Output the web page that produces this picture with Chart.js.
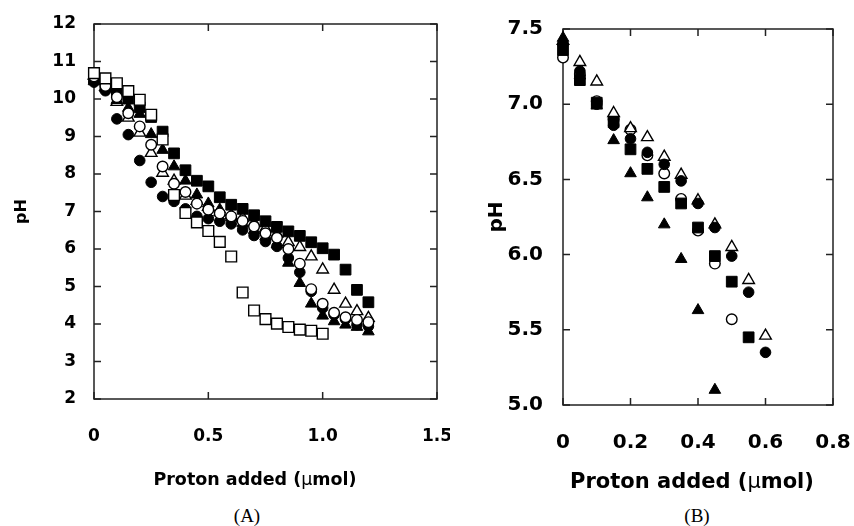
<!DOCTYPE html>
<html>
<head>
<meta charset="utf-8">
<script src="https://cdn.jsdelivr.net/npm/chart.js@4.4.0/dist/chart.umd.min.js"></script>
<style>
  body { margin: 0; background: #fff; width: 854px; height: 526px; position: relative; overflow: hidden;
         font-family: 'DejaVu Sans', 'Liberation Sans', Arial, sans-serif; }
  canvas { position: absolute; top: 0; }
  #chartA { left: 0; }
  #chartB { left: 450px; }
  .xt { position: absolute; font-weight: bold; white-space: nowrap; line-height: 1; transform: translateX(-50%); color: #000; }
  .mu { font-weight: normal; }
  .tag { position: absolute; font-family: 'Liberation Serif', 'Times New Roman', serif; font-size: 19px; line-height: 1;
         transform: translateX(-50%); color: #000; }
</style>
</head>
<body>
<canvas id="chartA" width="450" height="500"></canvas>
<canvas id="chartB" width="404" height="500"></canvas>
<div class="xt" style="left:255px;top:471px;font-size:17.5px">Proton added (<span class="mu">&mu;</span>mol)</div>
<div class="xt" style="left:692px;top:471px;font-size:21px">Proton added (<span class="mu">&mu;</span>mol)</div>
<div class="tag" style="left:247px;top:506px">(A)</div>
<div class="tag" style="left:697px;top:506px">(B)</div>
<script>
(function () {
  // ---- panel A: pH vs proton added (0 - 1.2 umol) ----
  var xA = [0, 0.05, 0.1, 0.15, 0.2, 0.25, 0.3, 0.35, 0.4, 0.45, 0.5, 0.55, 0.6,
            0.65, 0.7, 0.75, 0.8, 0.85, 0.9, 0.95, 1.0, 1.05, 1.1, 1.15, 1.2];
  var filledCircleA = [10.45, 10.22, 9.47, 9.05, 8.36, 7.78, 7.40, 7.27, 7.07, 6.87, 6.81, 6.74, 6.67,
                       6.51, 6.36, 6.20, 6.07, 5.76, 5.38, 4.87, 4.43, 4.25, 4.13, 3.98, 3.94];
  var openCircleA   = [10.60, 10.35, 10.05, 9.62, 9.27, 8.78, 8.20, 7.74, 7.52, 7.21, 7.05, 6.95, 6.87,
                       6.75, 6.60, 6.42, 6.30, 6.00, 5.61, 4.93, 4.54, 4.30, 4.18, 4.11, 4.05];
  var filledTriA    = [10.47, 10.28, 9.97, 9.76, 9.60, 9.06, 8.64, 8.20, 7.82, 7.45, 7.21, 7.05, 6.85,
                       6.68, 6.50, 6.33, 6.12, 5.63, 5.09, 4.54, 4.22, 4.07, 3.98, 3.92, 3.80];
  var openTriA      = [10.62, 10.32, 9.92, 9.50, 9.10, 8.56, 8.03, 7.82, 7.42, 7.28, 7.12, 6.98, 6.90,
                       6.83, 6.69, 6.55, 6.40, 6.18, 6.05, 5.80, 5.45, 4.91, 4.54, 4.34, 4.16];
  var filledSqA     = [10.55, 10.40, 10.22, 10.01, 9.78, 9.52, 9.13, 8.55, 8.10, 7.82, 7.67, 7.38, 7.18,
                       7.07, 6.90, 6.74, 6.59, 6.47, 6.35, 6.18, 6.02, 5.85, 5.45, 4.91, 4.58];
  var openSqA       = [10.69, 10.55, 10.42, 10.21, 9.98, 9.58, 8.92, 7.44, 6.96, 6.71, 6.48, 6.19, 5.80,
                       4.84, 4.36, 4.13, 4.01, 3.92, 3.85, 3.82, 3.74];
  var xTicksA = [0, 0.5, 1.0, 1.5];
  var xTickLabelsA = ['0', '0.5', '1.0', '1.5'];
  var yTicksA = [2, 3, 4, 5, 6, 7, 8, 9, 10, 11, 12];
  var yTickLabelsA = ['2', '3', '4', '5', '6', '7', '8', '9', '10', '11', '12'];

  // ---- panel B: pH vs proton added (0 - 0.6 umol) ----
  var xB = [0, 0.05, 0.1, 0.15, 0.2, 0.25, 0.3, 0.35, 0.4, 0.45, 0.5, 0.55, 0.6];
  var filledCircleB = [7.40, 7.22, 7.00, 6.86, 6.77, 6.68, 6.60, 6.49, 6.34, 6.18, 5.99, 5.75, 5.35];
  var openCircleB   = [7.31, 7.20, 7.02, 6.90, 6.83, 6.66, 6.54, 6.37, 6.16, 5.94, 5.57];
  var filledTriB    = [7.44, 7.19, 6.99, 6.76, 6.54, 6.38, 6.20, 5.97, 5.63, 5.10];
  var openTriB      = [7.42, 7.28, 7.15, 6.94, 6.84, 6.78, 6.65, 6.53, 6.36, 6.20, 6.05, 5.83, 5.46];
  var filledSqB     = [7.36, 7.16, 7.01, 6.88, 6.70, 6.57, 6.45, 6.34, 6.18, 5.99, 5.82, 5.45];
  var xTicksB = [0, 0.2, 0.4, 0.6, 0.8];
  var xTickLabelsB = ['0', '0.2', '0.4', '0.6', '0.8'];
  var yTicksB = [5.0, 5.5, 6.0, 6.5, 7.0, 7.5];
  var yTickLabelsB = ['5.0', '5.5', '6.0', '6.5', '7.0', '7.5'];

  Chart.defaults.font.family = "'DejaVu Sans', 'Liberation Sans', Arial, sans-serif";
  Chart.defaults.color = '#000';

  var MARK = {
    circle:   { style: 'circle',   r: 5.3 },
    triangle: { style: 'triangle', r: 6.7 },
    rect:     { style: 'rect',     r: 7.6 }
  };

  function pts(xs, ys) {
    return ys.map(function (y, i) { return { x: xs[i], y: y }; });
  }

  function series(label, xs, ys, shape, filled) {
    var m = MARK[shape];
    return {
      label: label,
      data: pts(xs, ys),
      pointStyle: m.style,
      pointRadius: m.r,
      pointHoverRadius: m.r,
      backgroundColor: filled ? '#000' : '#fff',
      borderColor: '#000',
      borderWidth: filled ? 1 : 1.4,
      showLine: false,
      clip: false
    };
  }

  // box frame with inward tick marks on all four sides
  var framePlugin = {
    id: 'frame',
    beforeDatasetsDraw: function (chart) {
      var a = chart.chartArea;
      var ctx = chart.ctx;
      var sx = chart.scales.x, sy = chart.scales.y;
      var tl = 7;
      ctx.save();
      ctx.strokeStyle = '#222';
      ctx.lineWidth = 1.5;
      ctx.strokeRect(a.left, a.top, a.right - a.left, a.bottom - a.top);
      ctx.beginPath();
      sx.ticks.forEach(function (t) {
        var px = sx.getPixelForValue(t.value);
        ctx.moveTo(px, a.bottom); ctx.lineTo(px, a.bottom - tl);
        ctx.moveTo(px, a.top);    ctx.lineTo(px, a.top + tl);
      });
      sy.ticks.forEach(function (t) {
        var py = sy.getPixelForValue(t.value);
        ctx.moveTo(a.left, py);  ctx.lineTo(a.left + tl, py);
        ctx.moveTo(a.right, py); ctx.lineTo(a.right - tl, py);
      });
      ctx.stroke();
      ctx.restore();
    }
  };

  function makeChart(id, cfg) {
    return new Chart(document.getElementById(id), {
      type: 'scatter',
      plugins: [framePlugin],
      data: { datasets: cfg.datasets },
      options: {
        responsive: false,
        animation: false,
        events: [],
        layout: { padding: { left: 0, top: cfg.top, right: cfg.right, bottom: 0 } },
        plugins: { legend: { display: false }, tooltip: { enabled: false } },
        scales: {
          x: {
            type: 'linear',
            min: cfg.xTicks[0],
            max: cfg.xTicks[cfg.xTicks.length - 1],
            afterBuildTicks: function (s) { s.ticks = cfg.xTicks.map(function (v) { return { value: v }; }); },
            afterFit: function (s) { s.height = cfg.xAxisH; s.paddingLeft = 0; s.paddingRight = 0; },
            grid: { display: false, drawTicks: false },
            border: { display: false },
            ticks: {
              padding: cfg.xPad,
              maxRotation: 0,
              autoSkip: false,
              font: { size: cfg.tickSize, weight: 'bold' },
              callback: function (v, i) { return cfg.xLabels[i]; }
            }
          },
          y: {
            type: 'linear',
            min: cfg.yTicks[0],
            max: cfg.yTicks[cfg.yTicks.length - 1],
            afterBuildTicks: function (s) { s.ticks = cfg.yTicks.map(function (v) { return { value: v }; }); },
            afterFit: function (s) { s.width = cfg.yAxisW; s.paddingTop = 0; s.paddingBottom = 0; },
            grid: { display: false, drawTicks: false },
            border: { display: false },
            title: {
              display: true,
              text: 'pH',
              font: { size: cfg.titleSize, weight: 'bold' },
              padding: { top: cfg.titlePad, bottom: 0 }
            },
            ticks: {
              padding: cfg.yPad,
              autoSkip: false,
              font: { size: cfg.tickSize, weight: 'bold' },
              callback: function (v, i) { return cfg.yLabels[i]; }
            }
          }
        }
      }
    });
  }

  makeChart('chartA', {
    datasets: [
      series('open square',     xA, openSqA,       'rect',     false),
      series('open circle',     xA, openCircleA,   'circle',   false),
      series('filled square',   xA, filledSqA,     'rect',     true),
      series('filled triangle', xA, filledTriA,    'triangle', true),
      series('open triangle',   xA, openTriA,      'triangle', false),
      series('filled circle',   xA, filledCircleA, 'circle',   true)
    ],
    xTicks: xTicksA, xLabels: xTickLabelsA,
    yTicks: yTicksA, yLabels: yTickLabelsA,
    top: 24, right: 13, xAxisH: 101, yAxisW: 94,
    xPad: 27, yPad: 18, tickSize: 17, titleSize: 16, titlePad: 12
  });

  makeChart('chartB', {
    datasets: [
      series('filled triangle', xB, filledTriB,    'triangle', true),
      series('filled square',   xB, filledSqB,     'rect',     true),
      series('filled circle',   xB, filledCircleB, 'circle',   true),
      series('open triangle',   xB, openTriB,      'triangle', false),
      series('open circle',     xB, openCircleB,   'circle',   false)
    ],
    xTicks: xTicksB, xLabels: xTickLabelsB,
    yTicks: yTicksB, yLabels: yTickLabelsB,
    top: 29, right: 21, xAxisH: 95, yAxisW: 113,
    xPad: 26, yPad: 20, tickSize: 20, titleSize: 20, titlePad: 35
  });
})();
</script>
</body>
</html>
